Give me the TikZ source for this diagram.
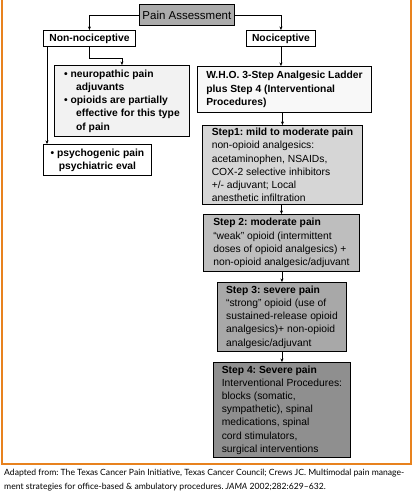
\documentclass[tikz,border=0pt]{standalone}
\usepackage{fontspec}
\setmainfont{Liberation Sans}
\newfontfamily\capfont[Ligatures=TeX]{Lato}
\usetikzlibrary{arrows.meta}
\definecolor{frameorange}{HTML}{E8821E}
\definecolor{painfill}{HTML}{ABABAB}
\definecolor{neurofill}{HTML}{F2F2F2}
\definecolor{whofill}{HTML}{F8F8F8}
\definecolor{stepone}{HTML}{D6D6D6}
\definecolor{steptwo}{HTML}{BEBEBE}
\definecolor{stepthree}{HTML}{A8A8A8}
\definecolor{stepfour}{HTML}{8F8F8F}
\frenchspacing
\begin{document}
\begin{tikzpicture}[x=1pt,y=-1pt,
    box/.style={draw,line width=0.9pt,anchor=north west,inner xsep=3pt,inner ysep=1pt,
      font=\fontsize{10.3}{13.2}\selectfont},
    stepbox/.style={box,align=left},
    link/.style={-{Stealth[length=3.5pt,width=3pt]},line width=0.5pt}]
  \useasboundingbox (0,0) rectangle (413,497);
  % frame
  \draw[frameorange,line width=2pt] (2,0) -- (2,464) -- (411,464) -- (411,0);
  % top of the tree
  \node[box,fill=painfill,minimum width=92pt,minimum height=21pt,font=\fontsize{11.5}{13.2}\selectfont] (pain) at (139,4) {Pain Assessment};
  \node[box,minimum width=92pt,minimum height=16pt,font=\fontsize{10.3}{13.2}\selectfont\bfseries] (nonnoc) at (43,30) {Non-nociceptive};
  \node[box,minimum width=69pt,minimum height=16pt,font=\fontsize{10.3}{13.2}\selectfont\bfseries] (noc) at (246,30) {Nociceptive};
  % non-nociceptive side
  \node[box,fill=neurofill,minimum width=135pt,minimum height=71pt,align=left,
    font=\fontsize{10.3}{13.2}\selectfont\bfseries] (neuro) at (54,65)
    {\textbullet\ neuropathic pain\\\hspace*{12pt}adjuvants\\\textbullet\ opioids are partially\\
     \hspace*{12pt}effective for this type\\\hspace*{12pt}of pain};
  \node[box,minimum width=108pt,minimum height=31pt,align=center,
    font=\fontsize{10.3}{13.2}\selectfont\bfseries] (psych) at (43,144)
    {\textbullet\ psychogenic pain\\psychiatric eval};
  % nociceptive side
  \node[box,fill=whofill,minimum width=174pt,minimum height=46pt,align=left,
    font=\fontsize{10.3}{13.2}\selectfont\bfseries] (who) at (197,66)
    {W.H.O. 3-Step Analgesic Ladder\\plus Step 4 (Interventional\\Procedures)};
  \node[stepbox,fill=stepone,minimum width=160pt,minimum height=79pt] (step1) at (202,125)
    {\textbf{Step1: mild to moderate pain}\\non-opioid analgesics:\\acetaminophen, NSAIDs,\\
     COX-2 selective inhibitors\\+/- adjuvant; Local\\anesthetic infiltration};
  \node[stepbox,fill=steptwo,minimum width=156pt,minimum height=57pt] (step2) at (203,214)
    {\textbf{Step 2: moderate pain}\\``weak'' opioid (intermittent\\doses of opioid analgesics) +\\
     non-opioid analgesic/adjuvant};
  \node[stepbox,fill=stepthree,minimum width=129pt,minimum height=69pt] (step3) at (217,282)
    {\textbf{Step 3: severe pain}\\``strong'' opioid (use of\\sustained-release opioid\\
     analgesics)+ non-opioid\\analgesic/adjuvant};
  \node[stepbox,fill=stepfour,minimum width=137pt,minimum height=95pt] (step4) at (213,362)
    {\textbf{Step 4: Severe pain}\\Interventional Procedures:\\blocks (somatic,\\
     sympathetic), spinal\\medications, spinal\\cord stimulators,\\surgical interventions};
  % connectors
  \draw[link] (pain.west) -| (nonnoc.north);
  \draw[link] (pain.east) -| (noc.north);
  \draw[link] (nonnoc.south) -- ++(0,11) -| (neuro.north);
  \draw[link] ([xshift=4pt]nonnoc.south west) -- ([xshift=4pt]psych.north west);
  \draw[link] (noc.south) -- (noc.south |- who.north);
  \draw[link] (step1.north |- who.south) -- (step1.north);
  \draw[link] (step2.north |- step1.south) -- (step2.north);
  \draw[link] (step3.north |- step2.south) -- (step3.north);
  \draw[link] (step4.north |- step3.south) -- (step4.north);
  % source
  \node[anchor=north west,inner sep=0pt,align=left,font=\capfont\fontsize{8.6}{13.5}\selectfont] (source) at (4,469)
    {Adapted from: The Texas Cancer Pain Initiative, Texas Cancer Council; Crews JC. Multimodal pain manage-\\
     ment strategies for office-based \& ambulatory procedures. \textit{JAMA} 2002;282:629–632.};
\end{tikzpicture}
\end{document}
